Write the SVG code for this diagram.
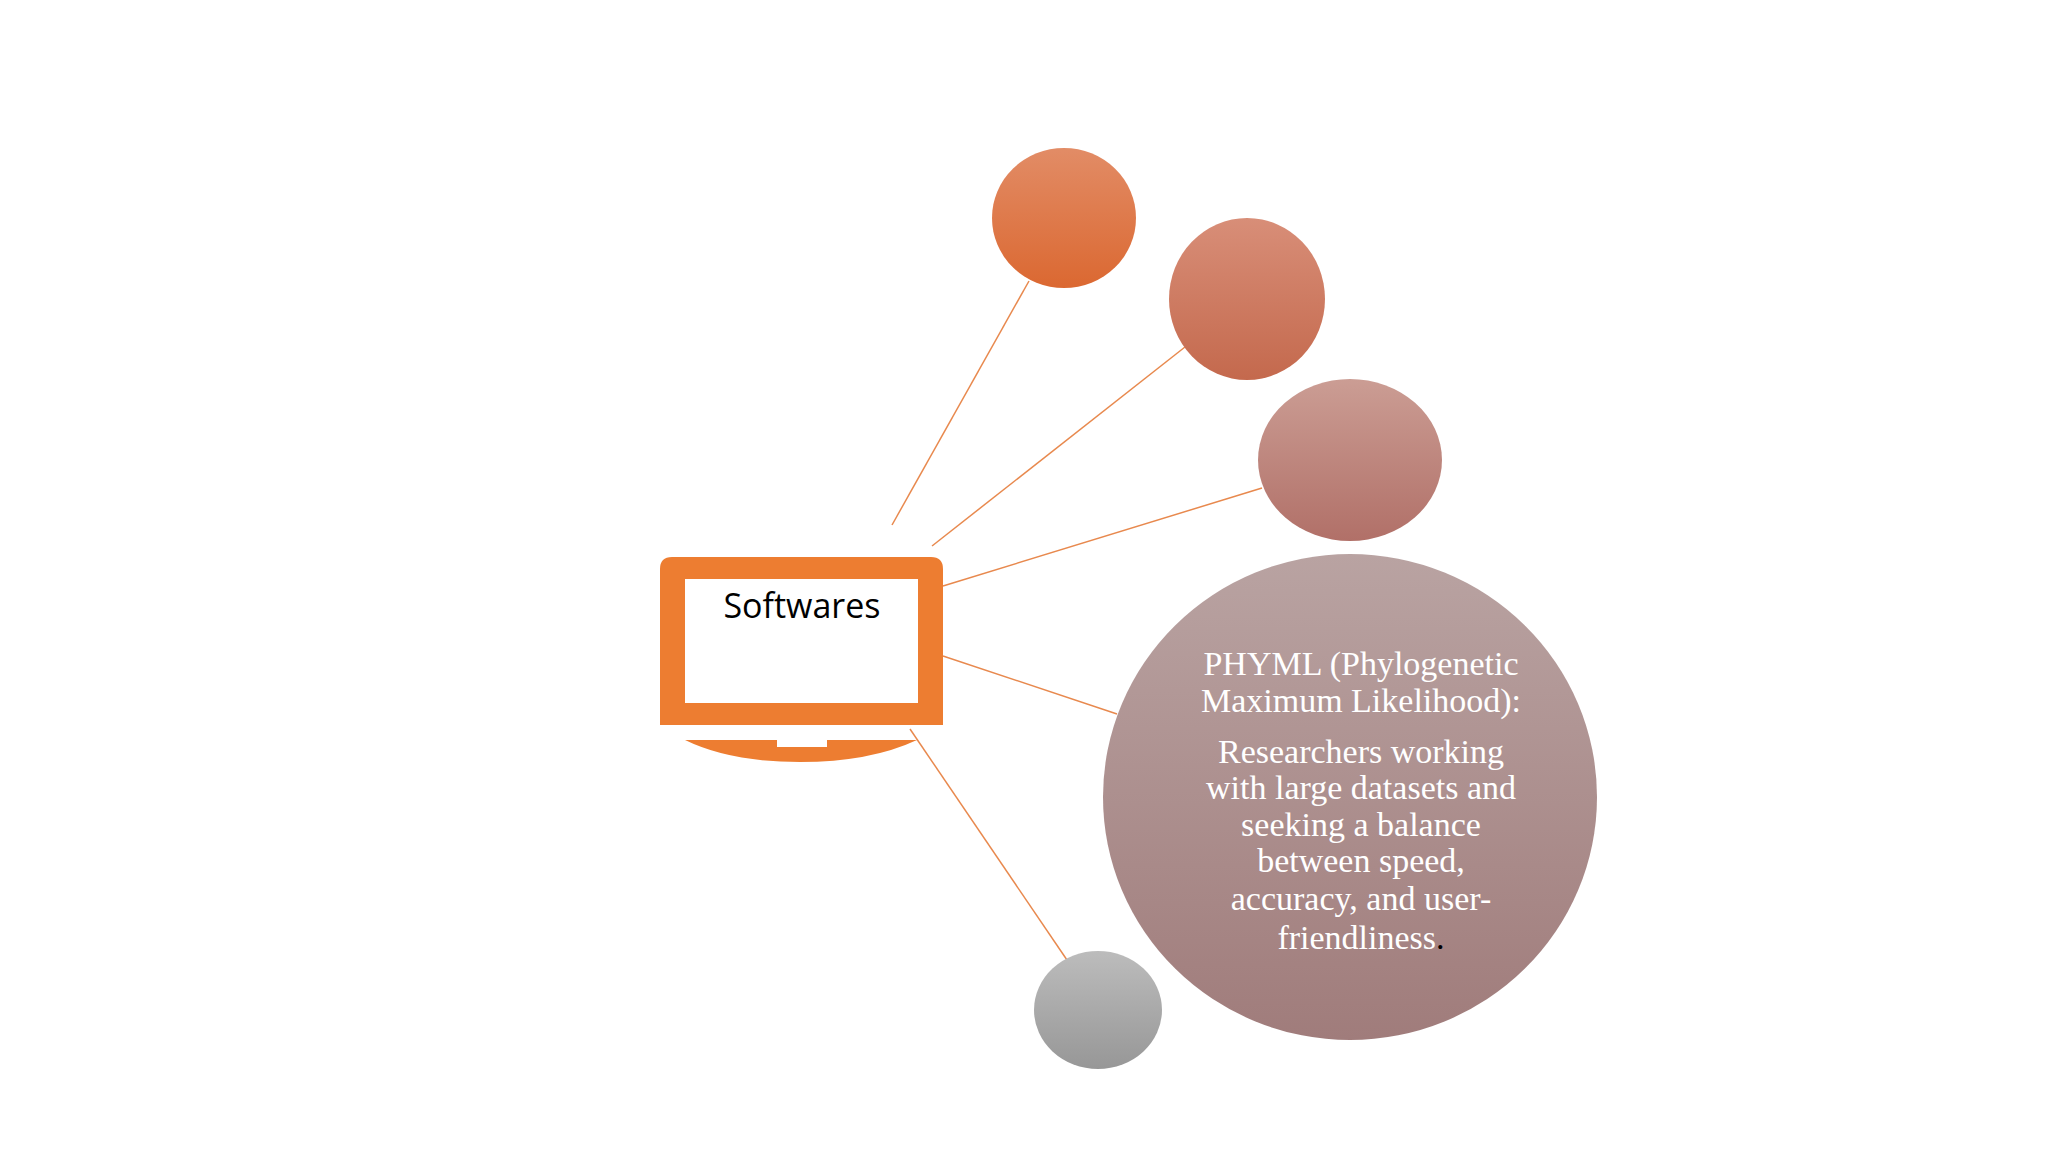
<svg xmlns="http://www.w3.org/2000/svg" width="2048" height="1152" viewBox="0 0 2048 1152">
<style>
.c{stroke:#e8894e;stroke-width:1.5;fill:none}
.t{font-family:"Liberation Serif",serif;font-size:34px;fill:#fff;text-anchor:middle}
</style>
<defs>
<linearGradient id="g1" x1="0" y1="0" x2="0" y2="1"><stop offset="0" stop-color="#e28c66"/><stop offset="1" stop-color="#db6831"/></linearGradient>
<linearGradient id="g2" x1="0" y1="0" x2="0" y2="1"><stop offset="0" stop-color="#d88e78"/><stop offset="1" stop-color="#c4694d"/></linearGradient>
<linearGradient id="g3" x1="0" y1="0" x2="0" y2="1"><stop offset="0" stop-color="#cb9d94"/><stop offset="1" stop-color="#b17068"/></linearGradient>
<linearGradient id="g4" x1="0" y1="0" x2="0" y2="1"><stop offset="0" stop-color="#b9a3a2"/><stop offset="1" stop-color="#a07c7b"/></linearGradient>
<linearGradient id="g5" x1="0" y1="0" x2="0" y2="1"><stop offset="0" stop-color="#bcbcbc"/><stop offset="1" stop-color="#979797"/></linearGradient>
</defs>
<rect width="2048" height="1152" fill="#fff"/>
<g id="connectors">
<line class="c" x1="892" y1="525" x2="1029" y2="281"/>
<line class="c" x1="932" y1="546" x2="1185" y2="347"/>
<line class="c" x1="943" y1="586" x2="1262" y2="488"/>
<line class="c" x1="943" y1="656" x2="1117" y2="714"/>
<line class="c" x1="910" y1="729" x2="1067" y2="960"/>
</g>
<g id="laptop">
<path fill="#ed7d31" fill-rule="evenodd" d="M672 557H931Q943 557 943 569V725H660V569Q660 557 672 557ZM685 579V703H918V579Z"/>
<path fill="#ed7d31" d="M685 740H777V747H827V740H917Q870 762 800 762Q730 762 685 740Z"/>
<text x="802" y="618" font-family="'Open Sans','Noto Sans',sans-serif" font-size="34" text-anchor="middle" fill="#000">Softwares</text>
</g>
<g id="c1"><ellipse cx="1064" cy="218" rx="72" ry="70" fill="url(#g1)"/></g>
<g id="c2"><ellipse cx="1247" cy="299" rx="78" ry="81" fill="url(#g2)"/></g>
<g id="c3"><ellipse cx="1350" cy="460" rx="92" ry="81" fill="url(#g3)"/></g>
<g id="c4"><ellipse cx="1350" cy="797" rx="247" ry="243" fill="url(#g4)"/>
<text class="t"><tspan x="1361" y="675">PHYML (Phylogenetic</tspan><tspan x="1361" y="712">Maximum Likelihood):</tspan><tspan x="1361" y="763">Researchers working</tspan><tspan x="1361" y="799">with large datasets and</tspan><tspan x="1361" y="836">seeking a balance</tspan><tspan x="1361" y="872">between speed,</tspan><tspan x="1361" y="910">accuracy, and user-</tspan><tspan x="1361" y="949">friendliness<tspan fill="#000">.</tspan></tspan></text>
</g>
<g id="c5"><ellipse cx="1098" cy="1010" rx="64" ry="59" fill="url(#g5)"/></g>
</svg>
